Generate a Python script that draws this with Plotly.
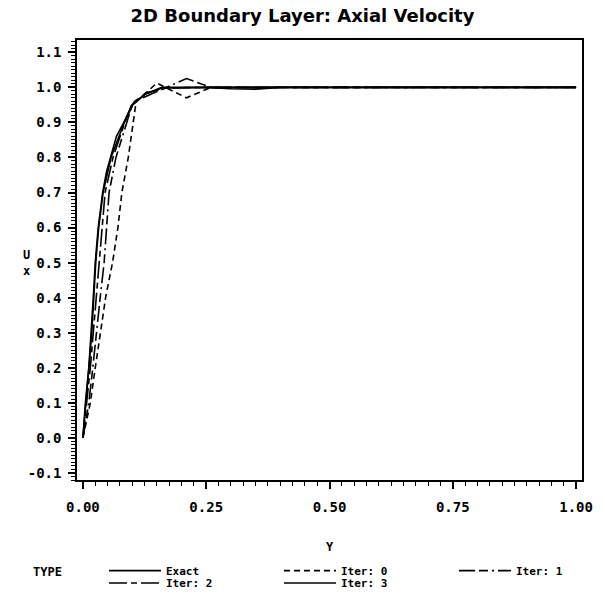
import plotly.graph_objects as go

# ---- data ----
exact_y = [0, 0.005, 0.012, 0.017, 0.021, 0.025, 0.031, 0.040, 0.048, 0.056, 0.068, 0.083, 0.100, 0.125, 0.160, 0.25, 0.5, 0.75, 1.0]
exact_u = [0, 0.10, 0.20, 0.30, 0.40, 0.50, 0.60, 0.70, 0.76, 0.80, 0.86, 0.90, 0.95, 0.98, 1.00, 1.0, 1.0, 1.0, 1.0]

iter0_y = [0, 0.015, 0.025, 0.036, 0.046, 0.060, 0.071, 0.079, 0.092, 0.102, 0.108, 0.15, 0.21, 0.26, 0.5, 1.0]
iter0_u = [0, 0.10, 0.20, 0.30, 0.40, 0.50, 0.60, 0.70, 0.80, 0.90, 0.96, 1.012, 0.97, 1.0, 1.0, 1.0]

iter1_y = [0, 0.012, 0.020, 0.027, 0.035, 0.043, 0.048, 0.053, 0.067, 0.088, 0.100, 0.105, 0.16, 0.21, 0.26, 0.5, 1.0]
iter1_u = [0, 0.10, 0.20, 0.30, 0.40, 0.50, 0.60, 0.70, 0.80, 0.90, 0.95, 0.96, 0.995, 1.025, 1.0, 1.0, 1.0]

iter2_y = [0, 0.008, 0.015, 0.021, 0.027, 0.034, 0.039, 0.045, 0.061, 0.085, 0.100, 0.130, 0.170, 0.25, 1.0]
iter2_u = [0, 0.10, 0.20, 0.30, 0.40, 0.50, 0.60, 0.70, 0.80, 0.90, 0.955, 0.985, 0.998, 1.0, 1.0]

iter3_y = [0, 0.006, 0.013, 0.018, 0.022, 0.026, 0.032, 0.041, 0.057, 0.084, 0.101, 0.126, 0.160, 0.25, 0.30, 0.35, 0.40, 1.0]
iter3_u = [0, 0.10, 0.20, 0.30, 0.40, 0.50, 0.60, 0.70, 0.80, 0.90, 0.95, 0.98, 0.998, 1.0, 0.996, 0.995, 1.0, 1.0]

series_names = ["Exact", "Iter: 0", "Iter: 1", "Iter: 2", "Iter: 3"]

x_tickvals = [0, 0.25, 0.5, 0.75, 1.0]
x_ticktext = ["0.00", "0.25", "0.50", "0.75", "1.00"]
y_tickvals = [1.1, 1.0, 0.9, 0.8, 0.7, 0.6, 0.5, 0.4, 0.3, 0.2, 0.1, 0.0, -0.1]
y_ticktext = ["1.1", "1.0", "0.9", "0.8", "0.7", "0.6", "0.5", "0.4", "0.3", "0.2", "0.1", "0.0", "-0.1"]

# ---- styles ----
dashes = ["solid", "6px,4px", "16px,4px,9px,4px,2px,4px", "18px,4px,6px,4px", "solid"]
legend_ids = ["legend", "legend", "legend", "legend2", "legend2"]
xs = [exact_y, iter0_y, iter1_y, iter2_y, iter3_y]
us = [exact_u, iter0_u, iter1_u, iter2_u, iter3_u]

mono = "DejaVu Sans Mono"
fig = go.Figure()
for name, x, u, d, lg in zip(series_names, xs, us, dashes, legend_ids):
    fig.add_trace(go.Scatter(x=x, y=u, mode="lines", name=name, legend=lg,
                             line=dict(color="black", width=1.6, dash=d)))

tick_font = dict(family=mono, size=14, color="black", weight="bold")
axis_common = dict(showgrid=False, zeroline=False, showline=True, linecolor="black",
                   linewidth=1.5, mirror=True, ticks="outside", tickcolor="black",
                   tickwidth=1.5, ticklen=7, tickfont=tick_font)

fig.update_xaxes(range=[-0.012, 1.012], tickvals=x_tickvals, ticktext=x_ticktext,
                 ticklabelstandoff=6,
                 minor=dict(dtick=0.025, ticks="outside", ticklen=4, tickcolor="black", tickwidth=1.2),
                 title=dict(text="Y", font=dict(family=mono, size=12, color="black", weight="bold"), standoff=29),
                 **axis_common)
fig.update_yaxes(range=[-0.12, 1.135], tickvals=y_tickvals, ticktext=y_ticktext,
                 ticklabelstandoff=4,
                 minor=dict(dtick=0.01, ticks="outside", ticklen=4, tickcolor="black", tickwidth=1.2),
                 **axis_common)

fig.add_annotation(text="U<br>x", xref="paper", yref="y", x=-0.1, y=0.5, showarrow=False,
                   font=dict(family=mono, size=12, color="black", weight="bold"), xanchor="center")
fig.add_annotation(text="TYPE", xref="paper", yref="paper", x=-0.092, y=-0.208, showarrow=False,
                   font=dict(family=mono, size=12, color="black", weight="bold"),
                   xanchor="left", yanchor="middle")

legend_font = dict(family=mono, size=11, color="black", weight="bold")
legend_common = dict(orientation="h", x=-0.002, xanchor="left", yanchor="top",
                     font=legend_font, entrywidth=80, itemwidth=52, indentation=28,
                     bgcolor="rgba(0,0,0,0)", borderwidth=0)

fig.update_layout(
    width=605, height=609,
    margin=dict(l=77, r=20, t=40, b=112),
    plot_bgcolor="white", paper_bgcolor="white",
    title=dict(text="2D Boundary Layer: Axial Velocity", x=0.5, xanchor="center", y=0.985, yanchor="top",
               font=dict(family="DejaVu Sans", size=18, color="black", weight="bold")),
    legend=dict(y=-0.173, **legend_common),
    legend2=dict(y=-0.201, **legend_common),
    showlegend=True,
)

fig.write_html("out.html")
